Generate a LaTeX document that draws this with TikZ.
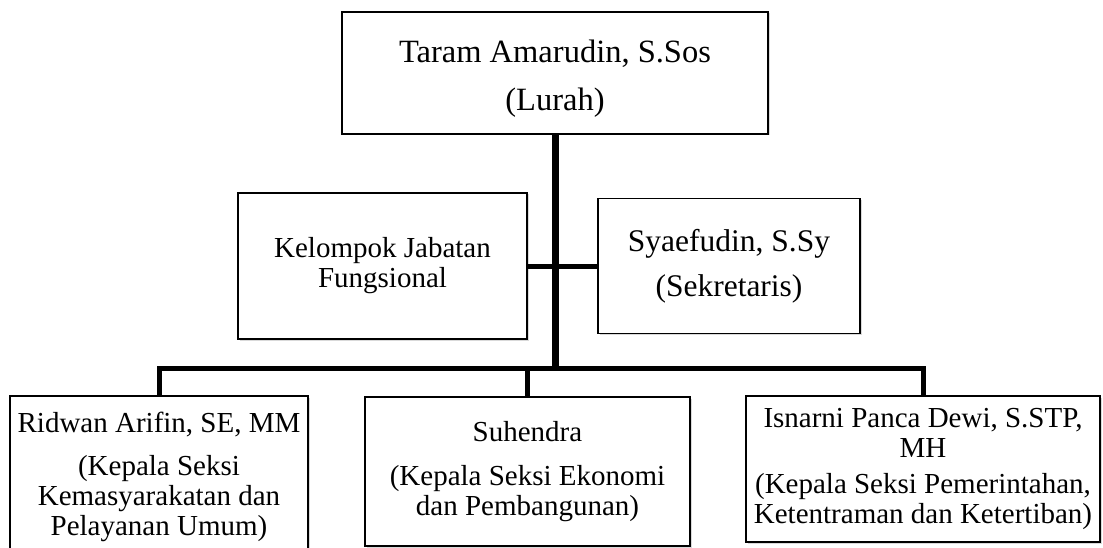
\documentclass[tikz,border=0pt]{standalone}
\usepackage{fontspec}
\setmainfont{Liberation Serif}
\usetikzlibrary{positioning,shadows}

\begin{document}
\begin{tikzpicture}[x=1pt,y=-1pt]

		\tikzset{line/.style={draw,line width=5pt}}
		\tikzset{trunk/.style={line,line width=7pt}}
		\tikzset{box/.style={draw,fill=white,line width=1.2pt,align=center,inner sep=2pt,drop shadow={shadow xshift=1.5pt,shadow yshift=-1.5pt,opacity=0.3}}}
		\tikzset{big/.style={font=\fontsize{31.5}{33}\selectfont}}
		\tikzset{small/.style={font=\fontsize{29}{30}\selectfont}}

		\useasboundingbox (0,0) rectangle (1103,548);

		% Lurah and the two staff boxes
		\node[box,big,font=\fontsize{32.5}{34}\selectfont,minimum width=426pt,minimum height=122pt] (lurah) at (555,73) {\rule{0pt}{33pt}Taram Amarudin, S.Sos\\[14pt](Lurah)};
		\node[box,small,minimum width=289pt,minimum height=146pt] (jf) at (382.5,266) {Kelompok Jabatan\\Fungsional};
		\node[box,big,minimum width=262pt,minimum height=135pt] (sek) at (729,266) {Syaefudin, S.Sy\\[12pt](Sekretaris)};

		% Kepala seksi
		\node[box,small,minimum width=298pt,minimum height=161pt] (ks1) at (159,476.5) {Ridwan Arifin, SE, MM\\[13pt](Kepala Seksi\\Kemasyarakatan dan\\Pelayanan Umum)};
		\node[box,small,minimum width=325pt,minimum height=149pt] (ks2) at (527.5,471.5) {Suhendra\\[14pt](Kepala Seksi Ekonomi\\dan Pembangunan)};
		\node[box,small,minimum width=354pt,minimum height=146pt] (ks3) at (923,469) {Isnarni Panca Dewi, S.STP,\\MH\\[6pt](Kepala Seksi Pemerintahan,\\Ketentraman dan Ketertiban)};

		\coordinate (hub) at (555,368);

		\path[line] (jf.east) to (sek.west);
		\path[line] (ks1.north) |- (hub) -| (ks3.north);
		\path[line] (ks2.north) to (ks2.north |- hub);
		\path[trunk] (lurah.south) to (hub);

	\end{tikzpicture}
\end{document}
